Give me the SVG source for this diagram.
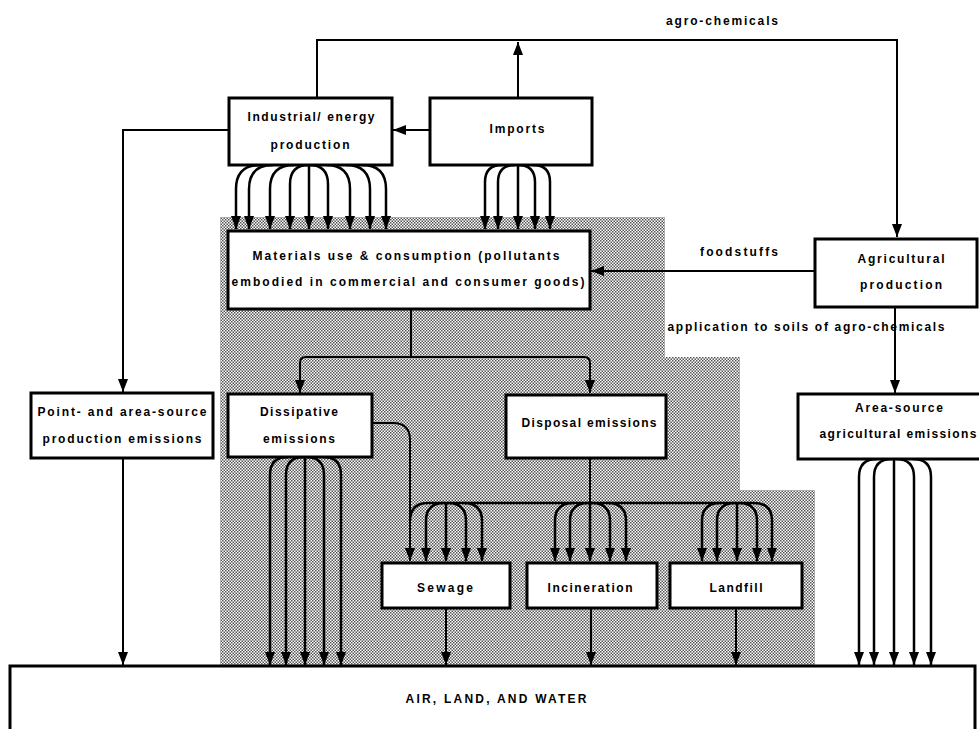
<svg xmlns="http://www.w3.org/2000/svg" width="979" height="729" viewBox="0 0 979 729">
<style>
.box{fill:#fff;stroke:#000;stroke-width:3}
.ln{fill:none;stroke:#000;stroke-width:2}
.fan{fill:none;stroke:#000;stroke-width:2.5}
text{font-family:"Liberation Sans",Arial,Helvetica,sans-serif;font-weight:bold;font-size:12px;fill:#000;text-anchor:middle}
</style>
<defs>
<pattern id="dots" width="3" height="3" patternUnits="userSpaceOnUse">
<rect width="3" height="3" fill="#fff"/>
<rect width="1.5" height="1.5" fill="#555"/>
<rect x="1.5" y="1.5" width="1.5" height="1.5" fill="#555"/>
</pattern>
<marker id="ah" viewBox="0 0 13 10" refX="13" refY="5" markerWidth="13" markerHeight="10" markerUnits="userSpaceOnUse" orient="auto">
<path d="M0,0 L13,5 L0,10 Z" fill="#000"/>
</marker>
</defs>
<rect width="979" height="729" fill="#fff"/>
<path id="shade" d="M220,217 L665,217 L665,357 L740,357 L740,490 L815,490 L815,665 L220,665 Z" fill="url(#dots)"/>

<g id="connectors">
<path class="ln" d="M317,98 L317,40 L897,40 L897,237" marker-end="url(#ah)"/>
<path class="ln" d="M518,98 L518,42" marker-end="url(#ah)"/>
<path class="ln" d="M430,130 L393,130" marker-end="url(#ah)"/>
<path class="ln" d="M229,130 L123,130 L123,392" marker-end="url(#ah)"/>
<path class="ln" d="M815,271 L591,271" marker-end="url(#ah)"/>
<path class="ln" d="M895,307 L895,393" marker-end="url(#ah)"/>
<path class="ln" d="M411,309 L411,357"/>
<path class="ln" d="M300,393 L300,363 Q300,357 306,357 L584,357 Q590,357 590,363 L590,393" marker-end="url(#ah)"/>
<path class="ln" d="M300,380 L300,393" marker-end="url(#ah)"/>
<path class="ln" d="M372,423 L393,423 Q410,423 410,440 L410,561" marker-end="url(#ah)"/>
<path class="ln" d="M590,458 L590,503"/>
<path class="ln" d="M123,458 L123,665" marker-end="url(#ah)"/>
<path class="ln" d="M446,608 L446,665" marker-end="url(#ah)"/>
<path class="ln" d="M591,608 L591,665" marker-end="url(#ah)"/>
<path class="ln" d="M736,608 L736,665" marker-end="url(#ah)"/>
<!-- industrial fan -->
<path class="fan" d="M260,165 Q236,165 236,189 L236,229" marker-end="url(#ah)"/>
<path class="fan" d="M273,165 Q249,165 249,189 L249,229" marker-end="url(#ah)"/>
<path class="fan" d="M294,165 Q270,165 270,189 L270,229" marker-end="url(#ah)"/>
<path class="fan" d="M309,165 Q290,165 290,184 L290,229" marker-end="url(#ah)"/>
<path class="fan" d="M309,165 L309,229" marker-end="url(#ah)"/>
<path class="fan" d="M309,165 Q328,165 328,184 L328,229" marker-end="url(#ah)"/>
<path class="fan" d="M326,165 Q350,165 350,189 L350,229" marker-end="url(#ah)"/>
<path class="fan" d="M346,165 Q370,165 370,189 L370,229" marker-end="url(#ah)"/>
<path class="fan" d="M362,165 Q386,165 386,189 L386,229" marker-end="url(#ah)"/>
<!-- imports fan -->
<path class="fan" d="M502,165 Q485,165 485,182 L485,229" marker-end="url(#ah)"/>
<path class="fan" d="M515,165 Q498,165 498,182 L498,229" marker-end="url(#ah)"/>
<path class="fan" d="M518,165 L518,229" marker-end="url(#ah)"/>
<path class="fan" d="M518,165 Q535,165 535,182 L535,229" marker-end="url(#ah)"/>
<path class="fan" d="M533,165 Q550,165 550,182 L550,229" marker-end="url(#ah)"/>
<!-- dissipative fan -->
<path class="fan" d="M288,457 Q270,457 270,475 L270,665" marker-end="url(#ah)"/>
<path class="fan" d="M304,457 Q286,457 286,475 L286,665" marker-end="url(#ah)"/>
<path class="fan" d="M305,457 L305,665" marker-end="url(#ah)"/>
<path class="fan" d="M306,457 Q324,457 324,475 L324,665" marker-end="url(#ah)"/>
<path class="fan" d="M323,457 Q341,457 341,475 L341,665" marker-end="url(#ah)"/>
<!-- area-source fan -->
<path class="fan" d="M877,459 Q859,459 859,477 L859,665" marker-end="url(#ah)"/>
<path class="fan" d="M892,459 Q874,459 874,477 L874,665" marker-end="url(#ah)"/>
<path class="fan" d="M894,459 L894,665" marker-end="url(#ah)"/>
<path class="fan" d="M896,459 Q914,459 914,477 L914,665" marker-end="url(#ah)"/>
<path class="fan" d="M913,459 Q931,459 931,477 L931,665" marker-end="url(#ah)"/>
<!-- disposal distribution -->
<path class="fan" d="M428,503 L754,503"/>
<path class="fan" d="M428,503 Q410,503 410,521"/>
<path class="fan" d="M444,503 Q426,503 426,521 L426,561" marker-end="url(#ah)"/>
<path class="fan" d="M446,503 L446,561" marker-end="url(#ah)"/>
<path class="fan" d="M448,503 Q466,503 466,521 L466,561" marker-end="url(#ah)"/>
<path class="fan" d="M464,503 Q482,503 482,521 L482,561" marker-end="url(#ah)"/>
<path class="fan" d="M573,503 Q555,503 555,521 L555,561" marker-end="url(#ah)"/>
<path class="fan" d="M588,503 Q570,503 570,521 L570,561" marker-end="url(#ah)"/>
<path class="fan" d="M590,503 L590,561" marker-end="url(#ah)"/>
<path class="fan" d="M592,503 Q610,503 610,521 L610,561" marker-end="url(#ah)"/>
<path class="fan" d="M608,503 Q626,503 626,521 L626,561" marker-end="url(#ah)"/>
<path class="fan" d="M720,503 Q702,503 702,521 L702,561" marker-end="url(#ah)"/>
<path class="fan" d="M735,503 Q717,503 717,521 L717,561" marker-end="url(#ah)"/>
<path class="fan" d="M737,503 L737,561" marker-end="url(#ah)"/>
<path class="fan" d="M739,503 Q757,503 757,521 L757,561" marker-end="url(#ah)"/>
<path class="fan" d="M754,503 Q772,503 772,521 L772,561" marker-end="url(#ah)"/>
</g>

<g id="labels">
<text x="722" y="25" textLength="112">agro-chemicals</text>
<text x="739" y="256" textLength="78">foodstuffs</text>
<text x="806" y="331" textLength="277">application to soils of agro-chemicals</text>
</g>

<g id="industrial">
<rect class="box" x="229" y="98" width="163" height="67"/>
<text x="311" y="121" textLength="127">Industrial/ energy</text>
<text x="310" y="149" textLength="79">production</text>
</g>
<g id="imports">
<rect class="box" x="430" y="98" width="162" height="67"/>
<text x="517" y="133" textLength="55">Imports</text>
</g>
<g id="materials">
<rect class="box" x="228" y="231" width="362" height="78"/>
<text x="406" y="260" textLength="307">Materials use &amp; consumption (pollutants</text>
<text x="408" y="286" textLength="353">embodied in commercial and consumer goods)</text>
</g>
<g id="agricultural">
<rect class="box" x="815" y="239" width="162" height="68"/>
<text x="901" y="263" textLength="87">Agricultural</text>
<text x="901" y="289" textLength="82">production</text>
</g>
<g id="point">
<rect class="box" x="31" y="393" width="182" height="65"/>
<text x="122" y="416" textLength="169">Point- and area-source</text>
<text x="122" y="443" textLength="159">production emissions</text>
</g>
<g id="dissipative">
<rect class="box" x="228" y="394" width="144" height="63"/>
<text x="299" y="416" textLength="78">Dissipative</text>
<text x="299" y="443" textLength="72">emissions</text>
</g>
<g id="disposal">
<rect class="box" x="506" y="395" width="160" height="63"/>
<text x="589" y="427" textLength="135">Disposal emissions</text>
</g>
<g id="area">
<rect class="box" x="798" y="394" width="184" height="65"/>
<text x="899" y="412" textLength="88">Area-source</text>
<text x="898" y="438" textLength="157">agricultural emissions</text>
</g>
<g id="sewage">
<rect class="box" x="382" y="563" width="128" height="45"/>
<text x="445" y="592" textLength="56">Sewage</text>
</g>
<g id="incineration">
<rect class="box" x="527" y="563" width="130" height="45"/>
<text x="590" y="592" textLength="85">Incineration</text>
</g>
<g id="landfill">
<rect class="box" x="670" y="563" width="132" height="45"/>
<text x="736" y="592" textLength="53">Landfill</text>
</g>
<g id="environment">
<rect class="box" x="10" y="666" width="965" height="90"/>
<text x="496" y="703" textLength="181">AIR, LAND, AND WATER</text>
</g>
</svg>
